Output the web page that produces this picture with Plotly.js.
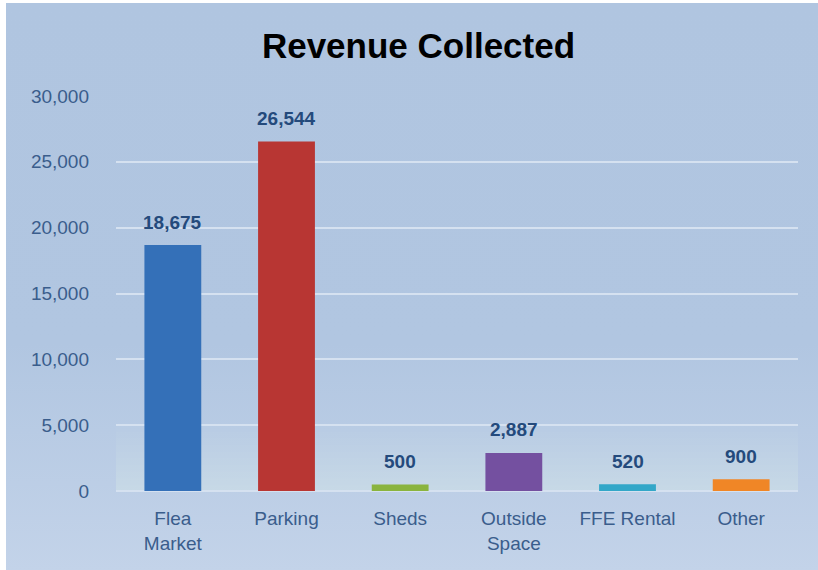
<!DOCTYPE html>
<html>
<head>
<meta charset="utf-8">
<script src="https://cdn.plot.ly/plotly-3.0.1.min.js"></script>
<style>
html,body{margin:0;padding:0;background:#fff;width:818px;height:570px;overflow:hidden;}
#wrap{position:absolute;left:6px;top:3px;width:812px;height:567px;
background:linear-gradient(to bottom,#b0c5e0 0%,#b1c6e1 60%,#c3d3e9 100%);}
#chart{width:812px;height:567px;}
</style>
</head>
<body>
<div id="wrap"><div id="chart"></div></div>
<script>
const categories = ["Flea<br>Market", "Parking", "Sheds", "Outside<br>Space", "FFE Rental", "Other"];
const values = [18675, 26544, 500, 2887, 520, 900];
const barColors = ["#3470b8", "#b83633", "#8ab43e", "#7450a0", "#33a7c8", "#f08626"];
const tickVals = [0, 5000, 10000, 15000, 20000, 25000, 30000];

const FONT = "Liberation Sans, Arial, sans-serif";

const trace = {
  type: "bar",
  x: categories,
  y: values,
  marker: {color: barColors, line: {width: 0}},
  width: 0.5,
  hoverinfo: "skip"
};

const annotations = categories.map((c, i) => ({
  x: c, y: values[i], xref: "x", yref: "y",
  text: "<b>" + values[i].toLocaleString("en-US") + "</b>",
  showarrow: false, yanchor: "middle", yshift: 23,
  font: {family: FONT, size: 19, color: "#244a7c"}
}));

// soft lighter band in the lower part of the plot area (decorative gradient)
const shapes = [];
const steps = 10;
for (let k = 0; k < steps; k++) {
  shapes.push({type: "rect", xref: "paper", yref: "paper", x0: 0, x1: 1,
    y0: 0, y1: 0.1667 * (k + 1) / steps, layer: "below",
    fillcolor: "rgba(255,255,255,0.028)", line: {width: 0}});
}
shapes.push({type: "line", xref: "paper", yref: "paper", x0: 0, x1: 1, y0: 0, y1: 0, layer: "below",
  line: {color: "#d5e1f0", width: 2}});

const layout = {
  width: 812, height: 567,
  paper_bgcolor: "rgba(0,0,0,0)",
  plot_bgcolor: "rgba(0,0,0,0)",
  margin: {l: 110, r: 20, t: 93, b: 79},
  title: {text: "<b>Revenue Collected</b>", x: 0.508, xanchor: "center", y: 0.925, yanchor: "middle",
    font: {family: FONT, size: 35, color: "#000"}},
  showlegend: false,
  xaxis: {
    showgrid: false, zeroline: false, showline: false, ticks: "",
    tickfont: {family: FONT, size: 19, color: "#3a5d8c"},
    ticklabelstandoff: 14
  },
  yaxis: {
    range: [0, 30000], tickvals: tickVals, ticktext: tickVals.map(v => v.toLocaleString("en-US")),
    showgrid: true, gridcolor: "#d5e1f0", gridwidth: 2,
    zeroline: false, showline: false, ticks: "",
    tickfont: {family: FONT, size: 19, color: "#3a5d8c"},
    ticklabelstandoff: 26
  },
  annotations: annotations,
  shapes: shapes
};

Plotly.newPlot("chart", [trace], layout, {displayModeBar: false, staticPlot: true});
</script>
</body>
</html>
